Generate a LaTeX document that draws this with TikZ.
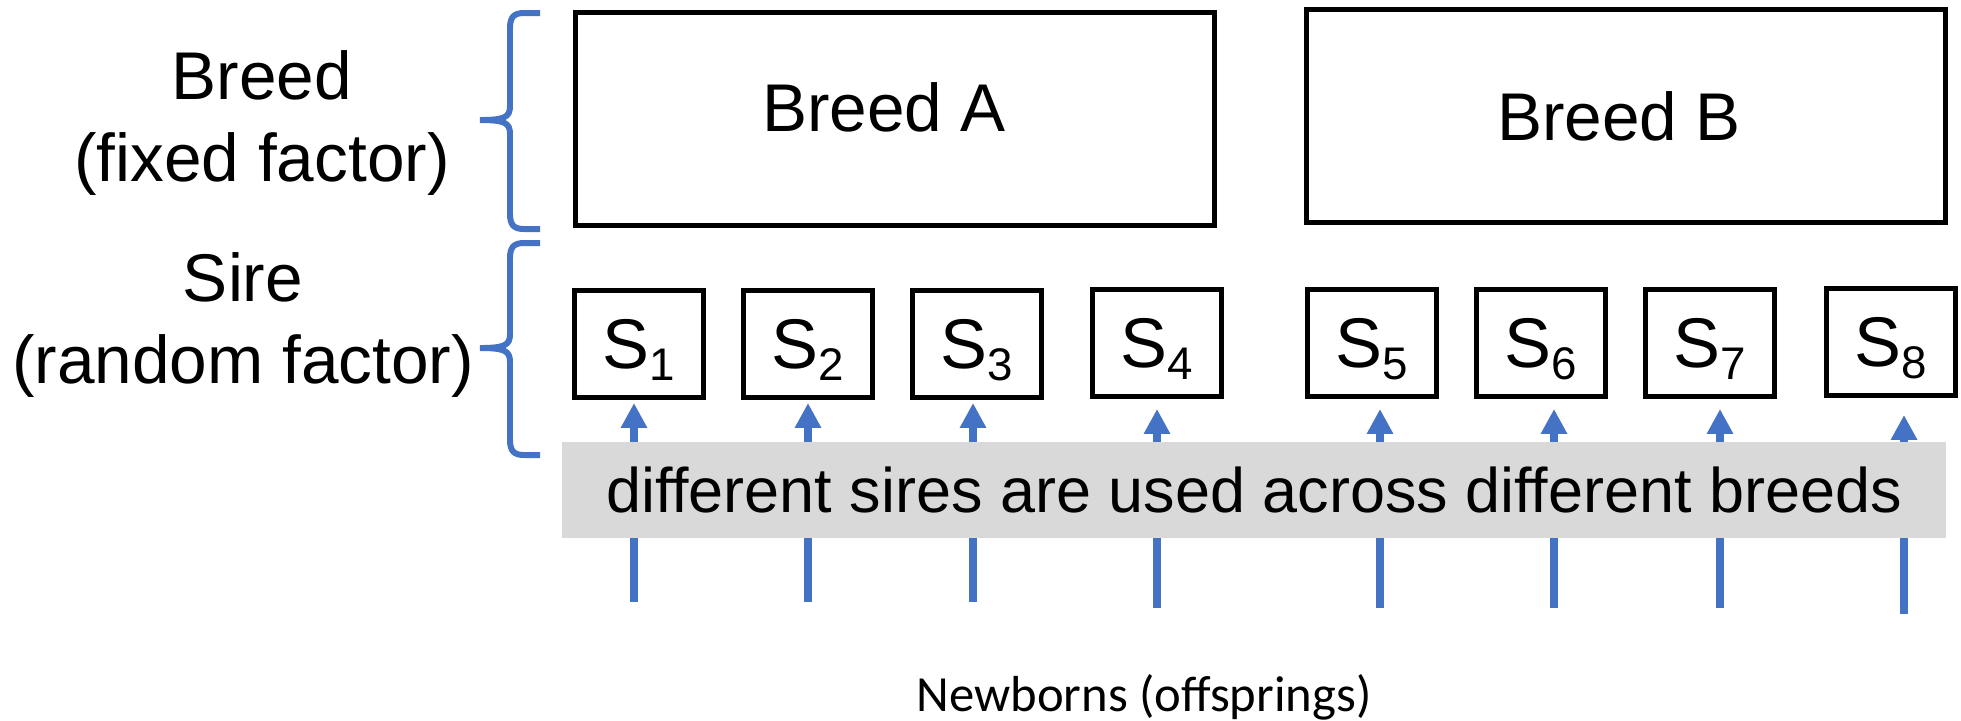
\documentclass[tikz,border=0pt]{standalone}
\usepackage{fontspec}
\setmainfont{Liberation Sans}
\newfontfamily\calibri{Carlito}
\usepackage{tikz}
\usetikzlibrary{arrows.meta}
\definecolor{sireblue}{HTML}{4472C4}
\definecolor{bandgray}{HTML}{D9D9D9}
\newcommand{\sire}[1]{S\raisebox{-3.4pt}{\fontsize{13}{13}\selectfont #1}}
\tikzset{
  breedbox/.style={draw=black, line width=1.4pt, inner sep=0pt, minimum width=6.38cm, minimum height=2.12cm, font=\fontsize{19.2}{23}\selectfont},
  sirebox/.style={draw=black, line width=1.3pt, inner sep=0pt, minimum width=1.29cm, minimum height=1.07cm, text depth=0pt, font=\fontsize{20}{24}\selectfont},
  factor/.style={align=center, inner sep=0pt, font=\fontsize{19.2}{23.3}\selectfont},
  grp/.style={draw=sireblue, line width=1.7pt},
  offspring/.style={draw=sireblue, line width=2.3pt, -{Triangle[width=7.1pt,length=7.1pt]}},
  note/.style={fill=bandgray, inner sep=0pt, minimum width=13.84cm, minimum height=0.96cm, font=\fontsize{17.9}{21}\selectfont}
}
\begin{document}
\begin{tikzpicture}[x=0.01cm, y=-0.01cm]
  \useasboundingbox (0,0) rectangle (1961,720);

  % factor labels and their braces
  \node[factor] (breedlbl) at (262,123) {Breed\\(fixed factor)};
  \node[factor] (sirelbl) at (243,325) {Sire\\(random factor)};
  \foreach \t/\m/\b in {13/120/229, 243/348/455}
    \draw[grp] (540,\t) -- (524,\t) .. controls (514,\t) and (510,\t+4) .. (510,\t+15)
      -- (510,\m-14) .. controls (510,\m-3) and (505,\m) .. (480,\m)
      .. controls (505,\m) and (510,\m+3) .. (510,\m+14)
      -- (510,\b-15) .. controls (510,\b-4) and (514,\b) .. (524,\b) -- (540,\b);

  % breeds (label of A sits a bit left of centre and up)
  \node[breedbox, text depth=0.24cm] (breedA) at (895,119) {Breed A\hspace*{0.22cm}};
  \node[breedbox] (breedB) at (1626,116) {Breed B\hspace*{0.14cm}};

  % sires
  \foreach \i/\x/\y in {1/639/344, 2/808/344, 3/977/344, 4/1157/343,
                        5/1372/343, 6/1541/343, 7/1710/343, 8/1891/342}
    \node[sirebox] (s\i) at (\x,\y) {\sire{\i}};

  % offspring arrows, the band is laid over them
  \foreach \i/\x/\y in {1/634/602, 2/808/602, 3/973/602, 4/1157/608,
                        5/1380/608, 6/1554/608, 7/1720/608, 8/1904/614} {
    \coordinate (nb\i) at (\x,\y);
    \coordinate (tp\i) at (\x,\y-199);
    \draw[offspring] (nb\i) -- (tp\i);
  }
  \node[note] (shared) at (1254,490) {different sires are used across different breeds};

  \node[font=\calibri\fontsize{14.4}{17}\selectfont] (newborns) at (1144,697) {Newborns (offsprings)};
\end{tikzpicture}
\end{document}
